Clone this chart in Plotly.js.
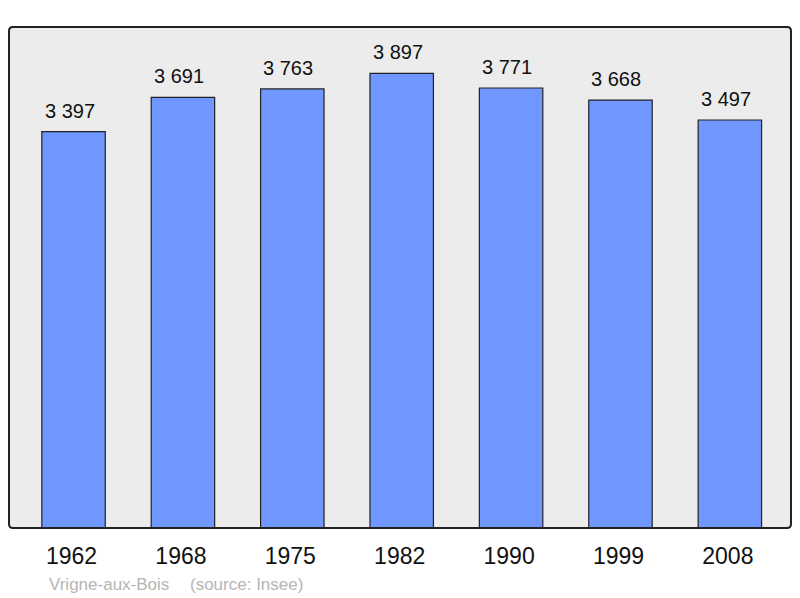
<!DOCTYPE html>
<html>
<head>
<meta charset="utf-8">
<script src="https://cdn.plot.ly/plotly-3.0.1.min.js"></script>
<style>
  html, body { margin: 0; padding: 0; background: #fff; }
  #graph { width: 800px; height: 598px; }
</style>
</head>
<body>
<div id="graph"></div>
<script>
// population by census year
const years = ["1962", "1968", "1975", "1982", "1990", "1999", "2008"];
const population = [3397, 3691, 3763, 3897, 3771, 3668, 3497];
const townName = "Vrigne-aux-Bois";
const sourceNote = "(source: Insee)";

function fmt(n) {
    // french style thousands separator
    return String(n).replace(/\B(?=(\d{3})+(?!\d))/g, " ");
}

document.addEventListener("DOMContentLoaded", function () {
    const bars = {
        type: "bar",
        x: years,
        y: population,
        width: 0.58,
        marker: {
            color: "#7097ff",
            line: { color: "#222", width: 1.2 }
        },
        hoverinfo: "none"
    };

    const font = "Liberation Sans, Arial, sans-serif";

    // numeric index on the category axis, a string like "1962" would be read as an index
    const labels = years.map(function (yr, i) {
        return {
            x: i,
            y: population[i],
            xref: "x",
            yref: "y",
            text: fmt(population[i]),
            showarrow: false,
            yanchor: "bottom",
            yshift: 8,
            xshift: -4,
            font: { family: font, size: 20, color: "#111" }
        };
    });

    // footer below the plot, in paper units of the plot area (782 x 501 px)
    labels.push({
        x: 38 / 782, y: -56 / 501, xref: "paper", yref: "paper",
        text: townName, showarrow: false, xanchor: "left", yanchor: "middle",
        font: { family: font, size: 17, color: "#b5b5b5" }
    });
    labels.push({
        x: 179 / 782, y: -56 / 501, xref: "paper", yref: "paper",
        text: sourceNote, showarrow: false, xanchor: "left", yanchor: "middle",
        font: { family: font, size: 17, color: "#b5b5b5" }
    });

    // frame with small rounded corners
    const rx = 4 / 782, ry = 4 / 501;
    const frame = "M " + rx + ",0 L " + (1 - rx) + ",0 Q 1,0 1," + ry +
        " L 1," + (1 - ry) + " Q 1,1 " + (1 - rx) + ",1" +
        " L " + rx + ",1 Q 0,1 0," + (1 - ry) +
        " L 0," + ry + " Q 0,0 " + rx + ",0 Z";

    const layout = {
        width: 800,
        height: 598,
        margin: { l: 9, r: 9, t: 27, b: 70 },
        paper_bgcolor: "#ffffff",
        plot_bgcolor: "#ececec",
        showlegend: false,
        xaxis: {
            type: "category",
            range: [-0.59, 6.559],
            showgrid: false,
            zeroline: false,
            showline: false,
            ticks: "",
            ticklabelstandoff: 12,
            ticklabelshift: -2,
            tickfont: { family: font, size: 23, color: "#111" }
        },
        yaxis: {
            range: [0, 4294],
            showgrid: false,
            zeroline: false,
            showticklabels: false,
            ticks: ""
        },
        shapes: [{
            type: "path",
            xref: "paper", yref: "paper",
            path: frame,
            line: { color: "#222", width: 2 },
            layer: "above"
        }],
        annotations: labels
    };

    Plotly.newPlot("graph", [bars], layout, { staticPlot: true });
});
</script>
</body>
</html>
